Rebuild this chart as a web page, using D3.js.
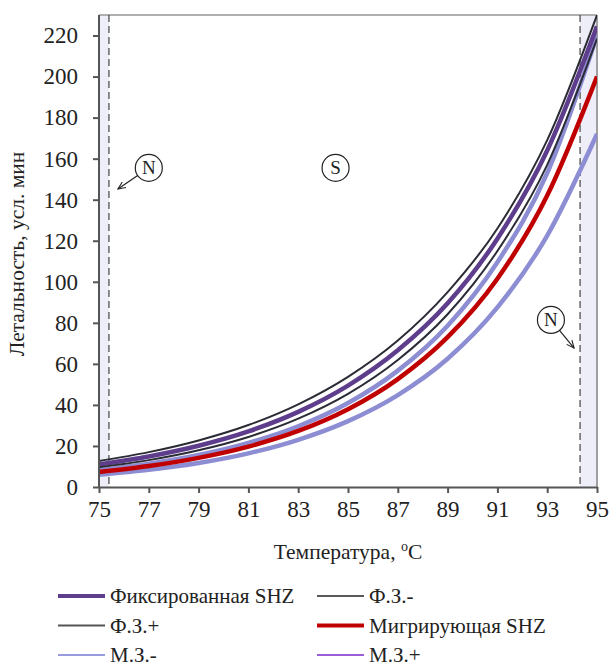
<!DOCTYPE html>
<html>
<head>
<meta charset="utf-8">
<script src="https://cdn.jsdelivr.net/npm/d3@7"></script>
<style>
  body { margin: 0; background: #fff; }
  svg text { font-family: "Liberation Serif", "Times New Roman", Tinos, serif; fill: #222; }
</style>
</head>
<body>
<div id="app"></div>
<script>
// temperatures, °C
var temps = [75, 77, 79, 81, 83, 85, 87, 89, 91, 93, 95];

// lethality, conventional minutes
var fixSHZ   = [11.0, 14.9, 20.1, 27.1, 36.6, 49.4, 66.6, 89.5, 121.0, 164.0, 224.5];
var fzMinus  = [9.6, 13.1, 17.9, 24.4, 33.3, 45.4, 61.9, 84.2, 115.0, 157.0, 218.5];
var fzPlus   = [12.7, 17.0, 22.7, 30.2, 40.3, 53.7, 71.4, 95.0, 126.0, 169.0, 230.0];
var migSHZ   = [7.3, 10.2, 14.2, 19.7, 27.3, 37.9, 52.6, 73.0, 101.5, 142.0, 200.0];
var mzMinus  = [6.0, 8.4, 11.7, 16.4, 23.0, 32.1, 44.8, 62.5, 87.5, 122.5, 172.0];
var mzPlus   = [8.3, 11.4, 15.6, 21.5, 29.6, 40.9, 56.7, 78.6, 109.5, 153.0, 220.0];

var xTicks = [75, 77, 79, 81, 83, 85, 87, 89, 91, 93, 95];
var yTicks = [0, 20, 40, 60, 80, 100, 120, 140, 160, 180, 200, 220];

// N zone limits (temperature)
var zoneLeft = [75, 75.4];
var zoneRight = [94.32, 95];

var W = 609, H = 668;
var margin = {left: 99, right: 12, top: 15, bottom: 181};
var serif = '"Liberation Serif", "Times New Roman", Tinos, serif';

var svg = d3.select('#app').append('svg')
    .attr('width', W)
    .attr('height', H);

var x = d3.scaleLinear().domain([75, 95]).range([margin.left, W - margin.right]);
var y = d3.scaleLinear().domain([0, 230]).range([H - margin.bottom, margin.top]);

// shaded N zones
[zoneLeft, zoneRight].forEach(function (z) {
    svg.append('rect')
        .attr('x', x(z[0]))
        .attr('y', y(230))
        .attr('width', x(z[1]) - x(z[0]))
        .attr('height', y(0) - y(230))
        .attr('fill', '#eeeef8');
});

// frame
svg.append('line')
    .attr('x1', x(75)).attr('x2', x(95))
    .attr('y1', y(230)).attr('y2', y(230))
    .attr('stroke', '#b0b0b0').attr('stroke-width', 2);
svg.append('line')
    .attr('x1', x(95)).attr('x2', x(95))
    .attr('y1', y(230)).attr('y2', y(0))
    .attr('stroke', '#a0a0a0').attr('stroke-width', 2);

// dashed zone borders
[zoneLeft[1], zoneRight[0]].forEach(function (t) {
    svg.append('line')
        .attr('x1', x(t)).attr('x2', x(t))
        .attr('y1', y(230)).attr('y2', y(0))
        .attr('stroke', '#444')
        .attr('stroke-width', 1.2)
        .attr('stroke-dasharray', '7,4');
});

svg.append('clipPath').attr('id', 'clip')
    .append('rect')
    .attr('x', x(75)).attr('y', y(230))
    .attr('width', x(95) - x(75)).attr('height', y(0) - y(230));

var series = [
    {name: 'М.З.-', values: mzMinus, color: '#8d8dd3', width: 4.5},
    {name: 'М.З.+', values: mzPlus, color: '#8d8dd3', width: 4.5},
    {name: 'Мигрирующая SHZ', values: migSHZ, color: '#c00000', width: 4.5},
    {name: 'Фиксированная SHZ', values: fixSHZ, color: '#5e3d8c', width: 4.5},
    {name: 'Ф.З.-', values: fzMinus, color: '#2b2b35', width: 2},
    {name: 'Ф.З.+', values: fzPlus, color: '#2b2b35', width: 2}
];

var line = d3.line()
    .x(function (d, i) { return x(temps[i]); })
    .y(function (d) { return y(d); })
    .curve(d3.curveMonotoneX);

var lines = svg.append('g').attr('clip-path', 'url(#clip)');
lines.selectAll('path')
    .data(series)
    .enter()
    .append('path')
    .attr('d', function (d) { return line(d.values); })
    .attr('fill', 'none')
    .attr('stroke', function (d) { return d.color; })
    .attr('stroke-width', function (d) { return d.width; });

// axes
var xAxis = svg.append('g')
    .attr('transform', 'translate(0,' + y(0) + ')')
    .call(d3.axisBottom(x).tickValues(xTicks).tickSize(6).tickSizeOuter(0));
var yAxis = svg.append('g')
    .attr('transform', 'translate(' + x(75) + ',0)')
    .call(d3.axisLeft(y).tickValues(yTicks).tickSize(6).tickSizeOuter(0));

[xAxis, yAxis].forEach(function (a) {
    a.attr('font-family', null).attr('font-size', null);
    a.select('.domain').attr('stroke', '#555').attr('stroke-width', 2);
    a.selectAll('.tick line').attr('stroke', '#555').attr('stroke-width', 2);
    a.selectAll('.tick text')
        .style('font-family', serif)
        .style('font-size', '23px')
        .attr('fill', '#222');
});
xAxis.selectAll('.tick text').attr('dy', '0.93em');
yAxis.selectAll('.tick text').attr('x', -21);
yAxis.select('.domain').attr('d', 'M0,' + y(230) + 'V' + y(0));

// axis titles
svg.append('text')
    .attr('transform', 'translate(24,' + ((y(0) + y(230)) / 2 + 3) + ') rotate(-90)')
    .attr('text-anchor', 'middle')
    .style('font-size', '21.5px')
    .text('Летальность, усл. мин');

var xt = svg.append('text')
    .attr('x', (x(75) + x(95)) / 2)
    .attr('y', 559)
    .attr('text-anchor', 'middle')
    .style('font-size', '21.5px');
xt.append('tspan').text('Температура, ');
xt.append('tspan').attr('dy', -8).style('font-size', '14px').text('o');
xt.append('tspan').attr('dy', 8).text('C');

// zone markers
var defs = svg.append('defs');
defs.append('marker')
    .attr('id', 'arrow')
    .attr('viewBox', '0 0 10 10')
    .attr('refX', 9).attr('refY', 5)
    .attr('markerWidth', 7).attr('markerHeight', 7)
    .attr('orient', 'auto')
    .append('path')
    .attr('d', 'M0,1 L9,5 L0,9')
    .attr('fill', 'none')
    .attr('stroke', '#222')
    .attr('stroke-width', 1.3);

var markers = [
    {label: 'N', t: 77.0, v: 155.5, arrowT: 75.76, arrowV: 145.2},
    {label: 'S', t: 84.5, v: 155.5},
    {label: 'N', t: 93.15, v: 81.4, arrowT: 94.08, arrowV: 67.7}
];

markers.forEach(function (m) {
    var cx = x(m.t), cy = y(m.v);
    if (m.arrowT) {
        var ax = x(m.arrowT), ay = y(m.arrowV);
        var ang = Math.atan2(ay - cy, ax - cx);
        svg.append('line')
            .attr('x1', cx + 13.5 * Math.cos(ang)).attr('y1', cy + 13.5 * Math.sin(ang))
            .attr('x2', ax).attr('y2', ay)
            .attr('stroke', '#222').attr('stroke-width', 1.2)
            .attr('marker-end', 'url(#arrow)');
    }
    svg.append('circle')
        .attr('cx', cx).attr('cy', cy).attr('r', 13.5)
        .attr('fill', '#fff')
        .attr('stroke', '#222').attr('stroke-width', 1.2);
    svg.append('text')
        .attr('x', cx).attr('y', cy + 6.5)
        .attr('text-anchor', 'middle')
        .style('font-size', '19px')
        .text(m.label);
});

// legend
var legendItems = [
    {name: 'Фиксированная SHZ', color: '#5e3d8c', width: 4},
    {name: 'Ф.З.-', color: '#222', width: 1.5},
    {name: 'Ф.З.+', color: '#555', width: 2},
    {name: 'Мигрирующая SHZ', color: '#c00000', width: 4},
    {name: 'М.З.-', color: '#9a9ade', width: 2},
    {name: 'М.З.+', color: '#9a5fd6', width: 2}
];

var legend = svg.append('g');
legendItems.forEach(function (d, i) {
    var col = i % 2, row = Math.floor(i / 2);
    var lx = col === 0 ? 58 : 317, ly = 596 + row * 29.5;
    legend.append('line')
        .attr('x1', lx).attr('x2', lx + 47)
        .attr('y1', ly).attr('y2', ly)
        .attr('stroke', d.color)
        .attr('stroke-width', d.width);
    legend.append('text')
        .attr('x', lx + 52).attr('y', ly + 7)
        .style('font-size', '21px')
        .text(d.name);
});
</script>
</body>
</html>
